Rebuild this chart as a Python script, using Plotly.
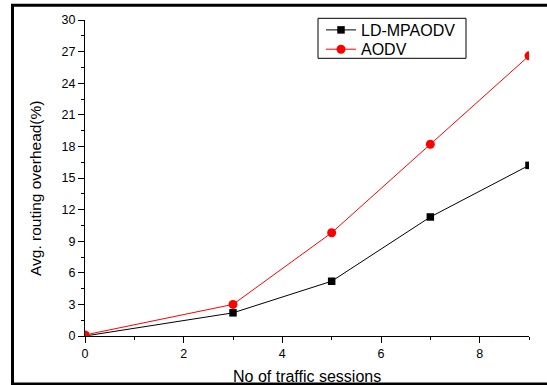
import plotly.graph_objects as go

sessions = [0, 3, 5, 7, 9]
ld_mpaodv = [0.0, 2.2, 5.2, 11.3, 16.2]
aodv = [0.1, 3.0, 9.8, 18.2, 26.6]
series_names = ["LD-MPAODV", "AODV"]

x_ticks = [0, 2, 4, 6, 8]
x_minor = [1, 3, 5, 7, 9]
y_ticks = [0, 3, 6, 9, 12, 15, 18, 21, 24, 27, 30]
y_minor = [1.5, 4.5, 7.5, 10.5, 13.5, 16.5, 19.5, 22.5, 25.5, 28.5]

x_title = "No of traffic sessions"
y_title = "Avg. routing overhead(%)"

W, H = 547, 385
L, R, T, B = 85, 18, 20, 49
pw, ph = W - L - R, H - T - B


def px_x(p):
    return (p - L) / pw


def px_y(p):
    return (H - B - p) / ph


font = "Liberation Sans, Arial, sans-serif"

fig = go.Figure()
fig.add_trace(go.Scatter(
    x=sessions, y=ld_mpaodv, name=series_names[0], mode="lines+markers",
    line=dict(color="black", width=1),
    marker=dict(symbol="square", size=7.5, color="black"),
    legend="legend",
))
fig.add_trace(go.Scatter(
    x=sessions, y=aodv, name=series_names[1], mode="lines+markers",
    line=dict(color="#ff0000", width=1),
    marker=dict(symbol="circle", size=9, color="#ff0000"),
    legend="legend2",
))

leg_common = dict(
    xanchor="left", yanchor="middle",
    bgcolor="rgba(0,0,0,0)", borderwidth=0,
    font=dict(size=16, family=font, color="black"),
)

fig.update_layout(
    width=W, height=H,
    margin=dict(l=L, r=R, t=T, b=B, autoexpand=False),
    paper_bgcolor="white", plot_bgcolor="white",
    font=dict(family=font, color="black", size=12),
    showlegend=True,
    legend=dict(x=px_x(321), y=px_y(30), **leg_common),
    legend2=dict(x=px_x(321), y=px_y(49.3), **leg_common),
    xaxis=dict(
        range=[0, 9], tickvals=x_ticks, ticktext=[str(v) for v in x_ticks],
        showgrid=False, zeroline=False, showline=True, linecolor="black", linewidth=1,
        ticks="outside", ticklen=6, tickcolor="black", tickwidth=1,
        tickfont=dict(size=12.5),
        minor=dict(tickvals=x_minor, ticks="outside", ticklen=3, tickcolor="black", showgrid=False),
        automargin=False,
    ),
    yaxis=dict(
        range=[0, 30], tickvals=y_ticks, ticktext=[str(v) for v in y_ticks],
        showgrid=False, zeroline=False, showline=True, linecolor="black", linewidth=1,
        ticks="outside", ticklen=6, tickcolor="black", tickwidth=1,
        tickfont=dict(size=12.5),
        minor=dict(tickvals=y_minor, ticks="outside", ticklen=3, tickcolor="black", showgrid=False),
        automargin=False,
    ),
    annotations=[
        dict(text=x_title, xref="paper", yref="paper", x=px_x(307), y=px_y(376),
             xanchor="center", yanchor="middle", showarrow=False,
             font=dict(size=16, family=font, color="black")),
        dict(text=y_title, xref="paper", yref="paper", x=px_x(35), y=px_y(189),
             xanchor="center", yanchor="middle", showarrow=False, textangle=-90,
             font=dict(size=15.5, family=font, color="black")),
    ],
    shapes=[
        dict(type="rect", xref="paper", yref="paper",
             x0=px_x(12.5), x1=px_x(600), y0=px_y(384), y1=px_y(5.3),
             line=dict(color="black", width=3), fillcolor="rgba(0,0,0,0)", layer="below"),
        dict(type="rect", xref="paper", yref="paper",
             x0=px_x(318), x1=px_x(466), y0=px_y(58.3), y1=px_y(18.3),
             line=dict(color="black", width=1), fillcolor="white", layer="below"),
    ],
)

fig.write_html("out.html")
